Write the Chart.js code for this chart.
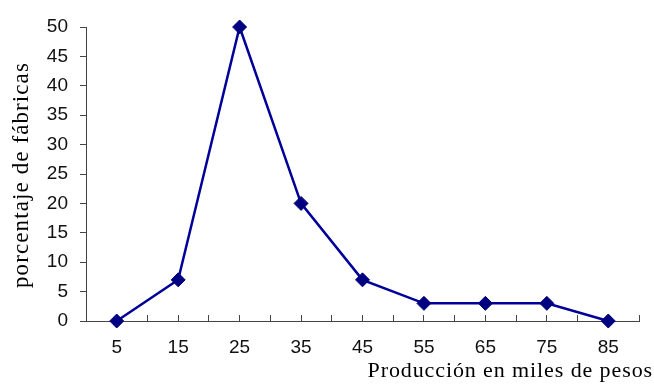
<!DOCTYPE html>
<html>
<head>
<meta charset="utf-8">
<script src="https://cdn.jsdelivr.net/npm/chart.js@4/dist/chart.umd.min.js"></script>
<style>
  html, body { margin: 0; padding: 0; background: #fff; }
  canvas { display: block; }
</style>
</head>
<body>
<canvas id="chart" width="654" height="385"></canvas>
<script>
// Producción (miles de pesos) y porcentaje de fábricas en cada clase
const production = [5, 15, 25, 35, 45, 55, 65, 75, 85];
const percentFactories = [0, 7, 50, 20, 7, 3, 3, 3, 0];
const yTicks = [0, 5, 10, 15, 20, 25, 30, 35, 40, 45, 50];

const xTitle = 'Producción en miles de pesos';
const yTitle = 'porcentaje de fábricas';

const axisColor = '#444';
const tickFont = { family: '"Liberation Sans", Arial, sans-serif', size: 19 };
const serif = '"Liberation Serif", "Times New Roman", serif';

// Axis captions: the x caption sits at the lower right, past the end of the axis;
// the y caption is rotated and centred on the value axis.
const axisTitlesPlugin = {
  id: 'axisTitles',
  afterDraw(chart) {
    const ctx = chart.ctx;
    const area = chart.chartArea;
    ctx.save();
    ctx.fillStyle = '#000';

    ctx.font = `22px ${serif}`;
    ctx.letterSpacing = '0.9px';
    ctx.textAlign = 'right';
    ctx.textBaseline = 'alphabetic';
    ctx.fillText(xTitle, 653, 377);

    ctx.font = `23px ${serif}`;
    ctx.letterSpacing = '1.1px';
    ctx.translate(22, (area.top + area.bottom) / 2 + 1);
    ctx.rotate(-Math.PI / 2);
    ctx.textAlign = 'center';
    ctx.textBaseline = 'middle';
    ctx.fillText(yTitle, 0, 0);
    ctx.restore();
  }
};

new Chart(document.getElementById('chart'), {
  type: 'line',
  data: {
    datasets: [{
      data: production.map((p, i) => ({ x: p, y: percentFactories[i] })),
      borderColor: '#000099',
      borderWidth: 2.5,
      tension: 0,
      pointStyle: 'rectRot',
      pointRadius: 7,
      pointBackgroundColor: '#000080',
      pointBorderColor: '#000080',
      pointBorderWidth: 1,
      clip: false
    }]
  },
  options: {
    responsive: false,
    animation: false,
    layout: { autoPadding: false, padding: { top: 27, right: 15, bottom: 20, left: 0 } },
    plugins: {
      legend: { display: false },
      tooltip: { enabled: false }
    },
    scales: {
      x: {
        type: 'linear',
        min: 0,
        max: 90,
        afterBuildTicks(scale) {
          const t = [];
          for (let v = 0; v <= 90; v += 5) t.push({ value: v });
          scale.ticks = t;
        },
        ticks: {
          autoSkip: false,
          maxRotation: 0,
          padding: 21,
          color: '#111',
          font: tickFont,
          callback: v => (production.includes(v) ? String(v) : '')
        },
        grid: {
          drawOnChartArea: false,
          drawTicks: true,
          tickLength: -6,
          color: axisColor
        },
        border: { display: true, color: axisColor, width: 1 },
        afterFit(scale) {
          scale.height = 44;
          scale.paddingLeft = 0;
          scale.paddingRight = 0;
        }
      },
      y: {
        min: 0,
        max: 50,
        afterBuildTicks(scale) {
          scale.ticks = yTicks.map(v => ({ value: v }));
        },
        ticks: {
          padding: 12,
          color: '#111',
          font: tickFont
        },
        grid: {
          drawOnChartArea: false,
          drawTicks: true,
          tickLength: 6,
          color: axisColor
        },
        border: { display: true, color: axisColor, width: 1 },
        afterFit(scale) { scale.width = 86; }
      }
    }
  },
  plugins: [axisTitlesPlugin]
});
</script>
</body>
</html>
